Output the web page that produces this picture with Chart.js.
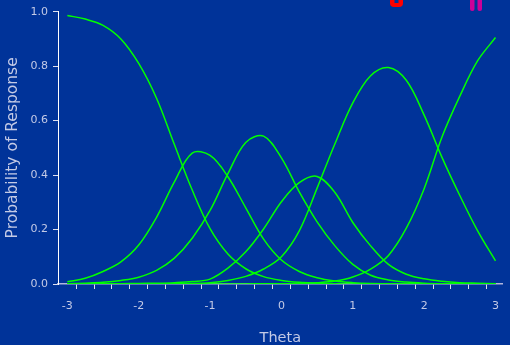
<!DOCTYPE html>
<html><head><meta charset="utf-8">
<script src="https://cdn.jsdelivr.net/npm/chart.js@4.4.1/dist/chart.umd.min.js"></script>
<style>html,body{margin:0;padding:0;background:#003399;overflow:hidden}#wrap{width:510px;height:345px;position:relative}</style>
</head><body><div id="wrap"><canvas id="c" width="510" height="345"></canvas></div>
<script>
const thetas = [-3,-2.75,-2.5,-2.25,-2,-1.75,-1.5,-1.25,-1,-0.75,-0.5,-0.25,0,0.25,0.5,0.75,1,1.25,1.5,1.75,2,2.25,2.5,2.75,3];
const cat1 = [0.986,0.973,0.950,0.900,0.810,0.682,0.512,0.345,0.203,0.110,0.056,0.027,0.013,0.006,0.003,0.001,0,0,0,0,0,0,0,0,0];
const cat2 = [0.008,0.021,0.046,0.081,0.143,0.245,0.375,0.481,0.472,0.394,0.280,0.165,0.088,0.046,0.023,0.011,0.005,0.002,0.001,0,0,0,0,0,0];
const cat3 = [0.001,0.003,0.006,0.013,0.025,0.050,0.095,0.168,0.270,0.405,0.520,0.543,0.463,0.338,0.228,0.140,0.072,0.032,0.015,0.007,0.003,0.001,0,0,0];
const cat4 = [0,0,0.001,0.001,0.002,0.003,0.005,0.009,0.018,0.058,0.118,0.202,0.302,0.372,0.395,0.336,0.226,0.140,0.072,0.036,0.019,0.010,0.005,0.003,0.001];
const cat5 = [0,0,0,0,0,0.001,0.001,0.002,0.005,0.013,0.028,0.055,0.100,0.195,0.352,0.515,0.665,0.765,0.795,0.748,0.620,0.465,0.325,0.195,0.085];
const cat6 = [0,0,0,0,0,0,0,0,0,0,0,0.001,0.001,0.002,0.005,0.011,0.026,0.055,0.105,0.205,0.350,0.540,0.690,0.820,0.905];
const xTickValues = [-3,-2,-1,0,1,2,3];
const xTickLabels = ['-3','-2','-1','0','1','2','3'];
const xMinorTicks = [-2.875,-2.625,-2.375,-2.125,-1.875,-1.625,-1.375,-1.125,-0.875,-0.625,-0.375,-0.125,0.125,0.375,0.625,0.875,1.125,1.375,1.625,1.875,2.125,2.375,2.625,2.875];
const yTickValues = [0,0.2,0.4,0.6,0.8,1.0];
const yTickLabels = ['0.0','0.2','0.4','0.6','0.8','1.0'];
const xTitle = 'Theta';
const yTitle = 'Probability of Response';

const series = [cat1,cat2,cat3,cat4,cat5,cat6];
const txtColor = '#c3cae6';
const fam = "'DejaVu Sans', Verdana, sans-serif";

const bgPlugin = {
  id:'bg',
  beforeDraw(chart){const c=chart.ctx;c.save();c.fillStyle='#003399';c.fillRect(0,0,chart.width,chart.height);c.restore();},
  afterDraw(chart){
    const c=chart.ctx;c.save();
    c.fillStyle='#ff0000';
    c.beginPath();c.roundRect(390,-6,13,13,4);c.fill();
    c.fillStyle='#003399';c.fillRect(394.5,0,4,3);
    c.fillStyle='#cc0099';
    c.beginPath();c.roundRect(470,-6,4.5,17,2);c.fill();
    c.beginPath();c.roundRect(477.5,-6,4.5,17,2);c.fill();
    c.restore();
  }
};

new Chart(document.getElementById('c').getContext('2d'), {
  type:'line',
  data:{datasets: series.map((s,i)=>({
    label:'Category '+(i+1),
    data: thetas.map((t,j)=>({x:t,y:s[j]})),
    borderColor:'#00ff00', borderWidth:1.5, pointRadius:0, tension:0.35, fill:false
  }))},
  options:{
    responsive:false, animation:false,
    layout:{padding:{top:11.7,right:0,left:0,bottom:0}},
    plugins:{legend:{display:false},tooltip:{enabled:false}},
    scales:{
      x:{type:'linear',min:-3.131,max:3.10,
        afterBuildTicks:s=>{s.ticks=[...xTickValues,...xMinorTicks].sort((a,b)=>a-b).map(v=>({value:v}));},
        afterFit:s=>{s.height=61;},
        ticks:{autoSkip:false,maxRotation:0,minRotation:0,padding:11,color:txtColor,font:{family:fam,size:11},
          callback:(v)=>{const i=xTickValues.indexOf(v);return i>=0?xTickLabels[i]:'';}},
        grid:{display:true,drawOnChartArea:false,drawTicks:true,tickLength:5,tickWidth:1,
          tickColor:c=>(c.tick && xTickValues.includes(c.tick.value))?'rgba(0,0,0,0)':'#dde0f0'},
        border:{display:true,color:'#b0b6dc',width:1.5},
        title:{display:true,text:xTitle,color:txtColor,font:{family:fam,size:14.5,lineHeight:1},padding:{top:0,bottom:0}}
      },
      y:{min:0,max:1,
        afterBuildTicks:s=>{s.ticks=yTickValues.map(v=>({value:v}));},
        afterFit:s=>{s.width=58;},
        ticks:{padding:5,color:txtColor,font:{family:fam,size:11},
          callback:(v)=>{const i=yTickValues.findIndex(t=>Math.abs(t-v)<1e-9);return i>=0?yTickLabels[i]:'';}},
        grid:{display:true,drawOnChartArea:false,drawTicks:true,tickLength:5,tickColor:'#dde0f0'},
        border:{display:true,color:'#ffffff',width:1},
        title:{display:true,text:yTitle,color:txtColor,font:{family:fam,size:15.5,lineHeight:1},padding:{top:4.75,bottom:0}}
      }
    }
  },
  plugins:[bgPlugin]
});
</script></body></html>
